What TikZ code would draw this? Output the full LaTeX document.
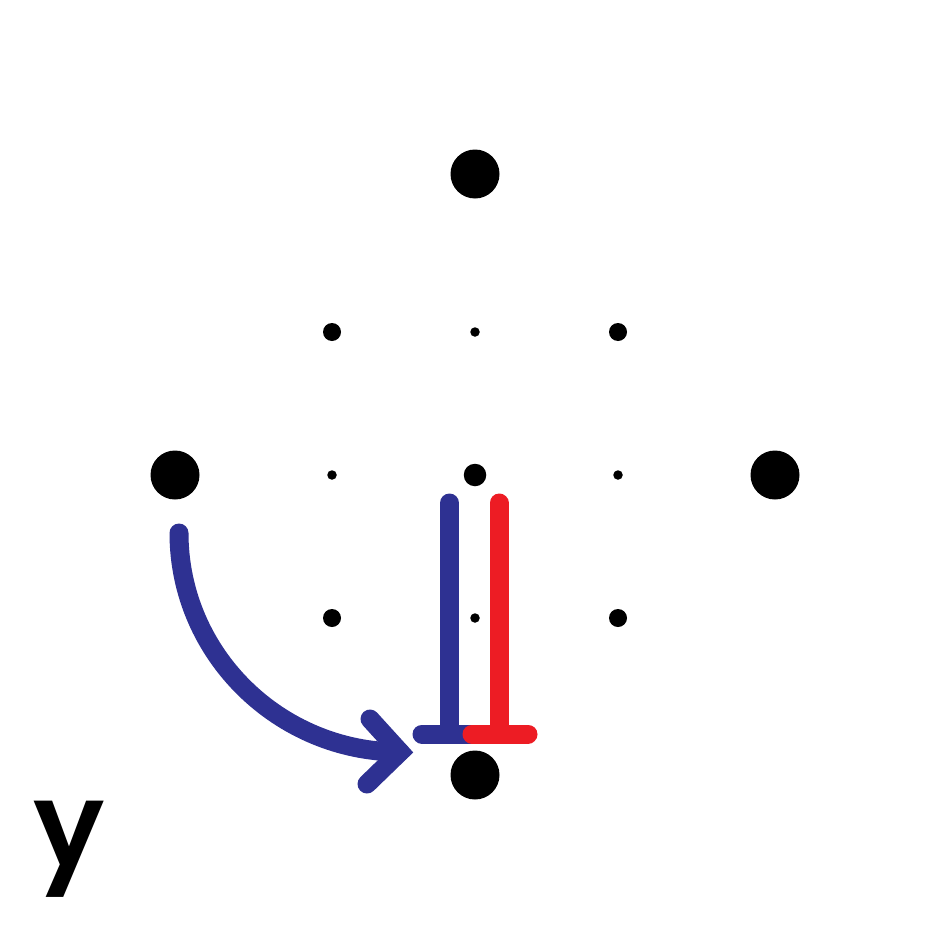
\documentclass[tikz,border=0pt]{standalone}
\usepackage{fontspec}
\newfontfamily\yfont{Poppins SemiBold}
\definecolor{myblue}{HTML}{2E3192}
\definecolor{myred}{HTML}{ED1C24}
\begin{document}
\begin{tikzpicture}[x=1pt,y=-1pt,
  bigdot/.style={circle,fill=black,inner sep=0pt,minimum size=49pt},
  middot/.style={circle,fill=black,inner sep=0pt,minimum size=18pt},
  cdot/.style={circle,fill=black,inner sep=0pt,minimum size=22.5pt},
  smalldot/.style={circle,fill=black,inner sep=0pt,minimum size=9.5pt},
  stroke/.style={line width=19pt,line cap=round,line join=miter}]
\useasboundingbox[fill=white] (0,0) rectangle (950,950);
% big dots
\node[bigdot] (T) at (475,174) {};
\node[bigdot] (L) at (175,475) {};
\node[bigdot] (R) at (775,475) {};
\node[bigdot] (B) at (475,775) {};
% medium dots
\node[middot] (m1) at (332,332) {};
\node[middot] (m2) at (618,332) {};
\node[middot] (m3) at (332,618) {};
\node[middot] (m4) at (618,618) {};
\node[cdot] (C) at (475,475) {};
% small dots
\node[smalldot] (s1) at (475,332) {};
\node[smalldot] (s2) at (332,475) {};
\node[smalldot] (s3) at (618,475) {};
\node[smalldot] (s4) at (475,618) {};
% coordinates
\coordinate (a0) at (179,533);
\coordinate (a1) at (400,752);
\coordinate (h1) at (370,719);
\coordinate (h2) at (367,784);
\coordinate (bt) at (449.5,503);
\coordinate (bb) at (449.5,734);
\coordinate (bl) at (422,734);
\coordinate (bm) at (472,734);
\coordinate (rt) at (499,503);
\coordinate (rb) at (499,734);
\coordinate (rr) at (528,734);
% arrow
\draw[stroke,myblue] (a0) .. controls (179,654) and (279,752) .. (a1);
\draw[stroke,myblue] (h1) -- (a1) -- (h2);
% blue T
\draw[stroke,myblue] (bt) -- (bb);
\draw[stroke,myblue] (bl) -- (bm);
% red T
\draw[stroke,myred] (rt) -- (rb);
\draw[stroke,myred] (bm) -- (rr);
% label
\node[anchor=base,inner sep=0pt,font=\yfont\fontsize{118}{118}\selectfont] (ylab) at (69,866) {y};
\end{tikzpicture}
\end{document}
